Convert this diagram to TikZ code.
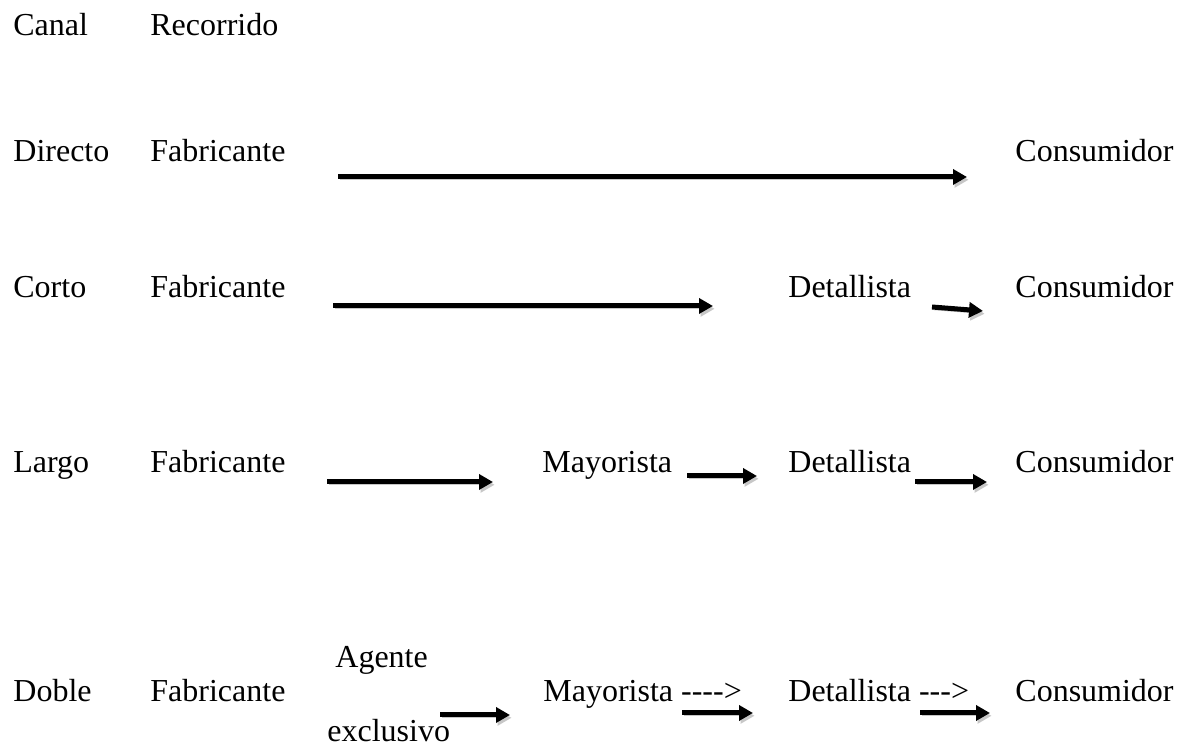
\documentclass[tikz,border=0pt]{standalone}
\usepackage{fontspec}
\setmainfont{Liberation Serif}
\usetikzlibrary{arrows.meta}

\begin{document}
\begin{tikzpicture}[x=0.5pt,y=-0.5pt,font=\fontsize{16}{19}\selectfont,
  txt/.style={anchor=base west,inner sep=0pt},
  flecha/.style={line width=2.5pt,-{Triangle[length=7pt,width=7.5pt]},
    preaction={draw=black!22,transform canvas={shift={(0.8pt,-1.4pt)}}}}]
  \useasboundingbox (0,0) rectangle (1184,747);
  % canales y recorridos
  \foreach \nom/\y in {Canal/36,Directo/162,Corto/298,Largo/473,Doble/702}
    \node[txt] (c-\nom) at (13,\y) {\nom};
  \node[txt] (recorrido) at (150,36) {Recorrido};
  \foreach \nom/\y in {directo/162,corto/298,largo/473,doble/702}{
    \node[txt] (fab-\nom) at (150,\y) {Fabricante};
    \node[txt] (con-\nom) at (1015,\y) {Consumidor};
  }
  \node[txt] (det-corto) at (788,298) {Detallista};
  \node[txt] (may-largo) at (542,473) {Mayorista};
  \node[txt] (det-largo) at (788,473) {Detallista};
  \node[txt] (agente) at (335,668) {Agente};
  \node[txt] (exclusivo) at (327,742) {exclusivo};
  \node[txt] (may-doble) at (543,702) {Mayorista -{}-{}-{}->};
  \node[txt] (det-doble) at (788,702) {Detallista -{}-{}->};
  % extremos de las flechas
  \coordinate (a1) at (338,177);  \coordinate (b1) at (967,177);
  \coordinate (a2) at (333,306);  \coordinate (b2) at (713,306);
  \coordinate (a3) at (932,307);  \coordinate (b3) at (983,311);
  \coordinate (a4) at (327,482);  \coordinate (b4) at (493,482);
  \coordinate (a5) at (687,476);  \coordinate (b5) at (757,476);
  \coordinate (a6) at (915,482);  \coordinate (b6) at (987,482);
  \coordinate (a7) at (440,715);  \coordinate (b7) at (510,715);
  \coordinate (a8) at (682,713);  \coordinate (b8) at (753,713);
  \coordinate (a9) at (920,713);  \coordinate (b9) at (990,713);
  \foreach \i in {1,...,9}
    \draw[flecha] (a\i) -- (b\i);
\end{tikzpicture}
\end{document}
